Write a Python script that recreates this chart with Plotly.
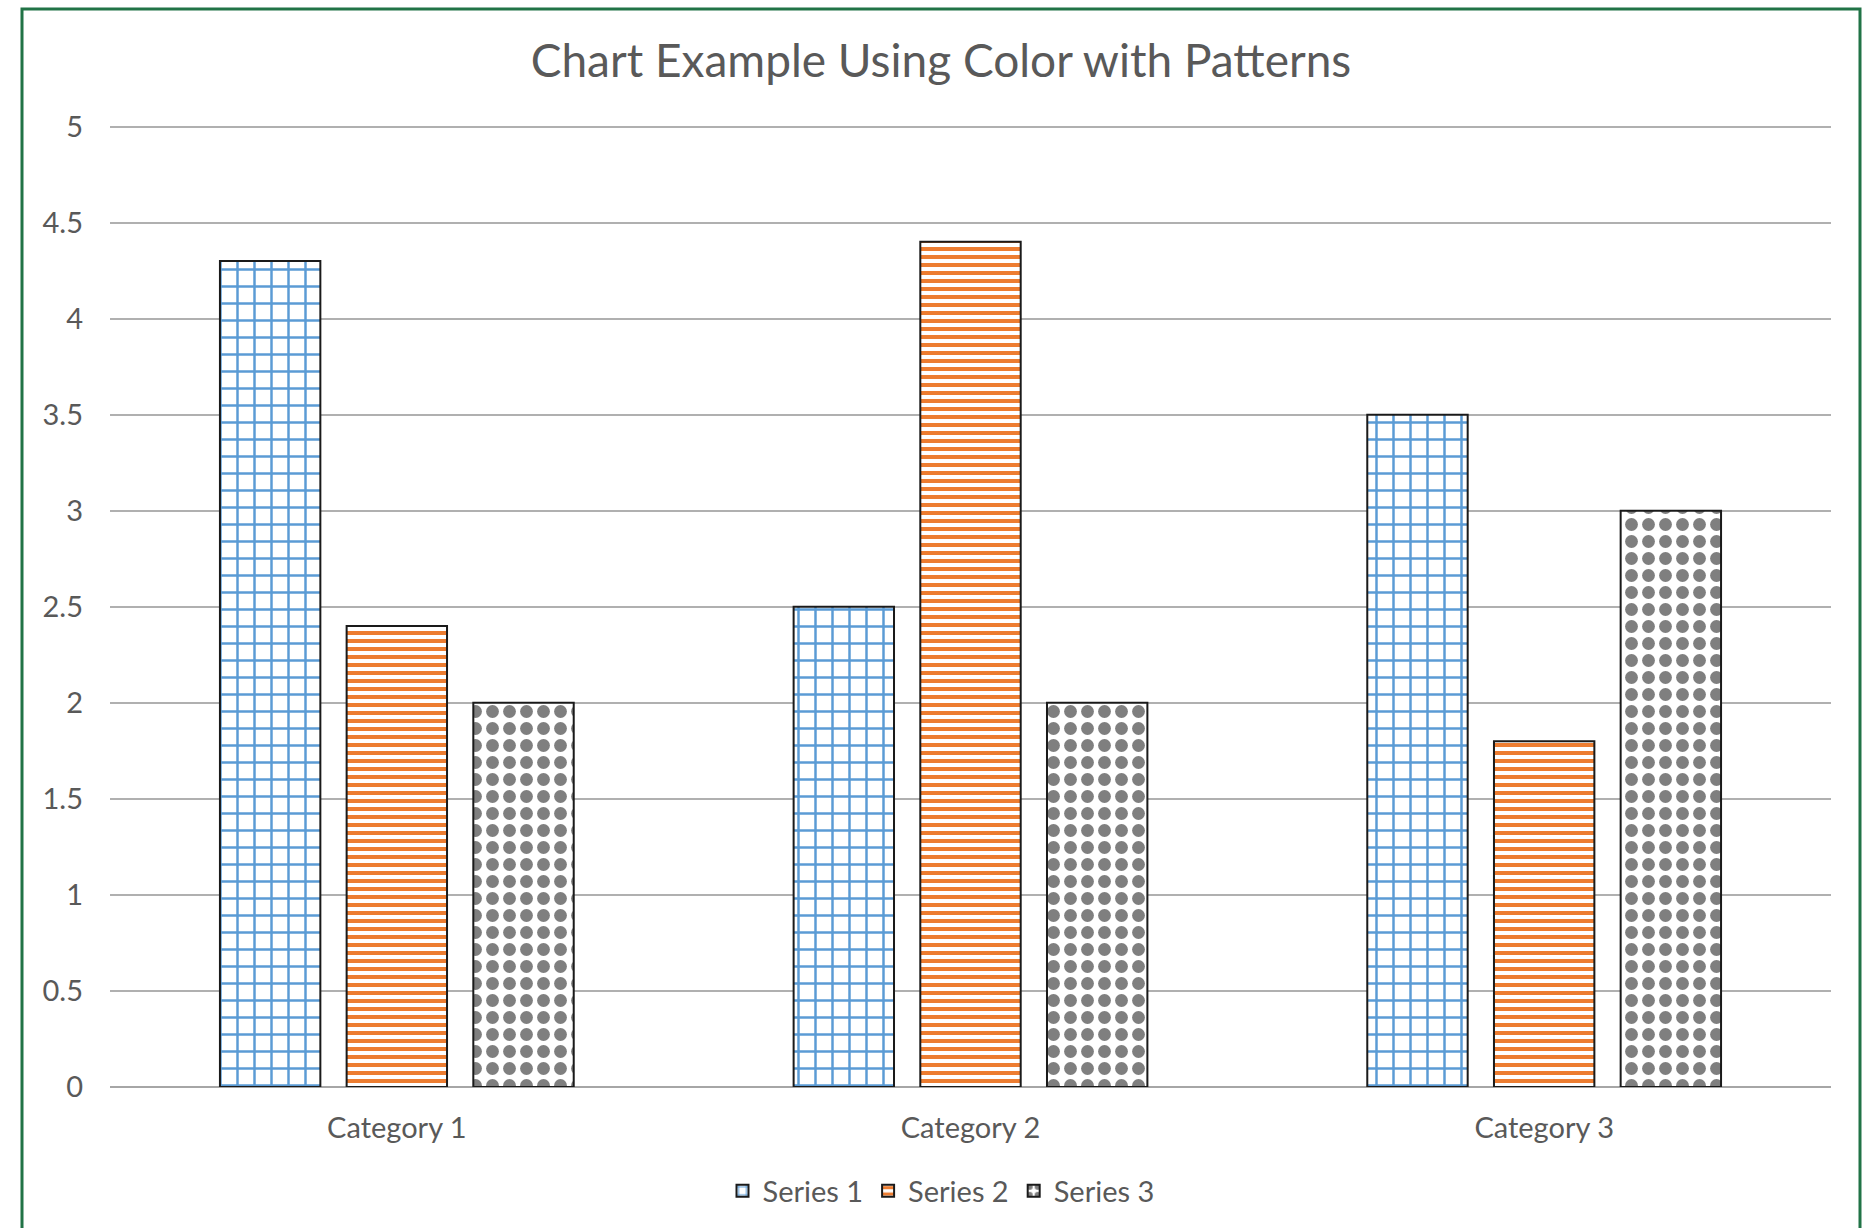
import plotly.graph_objects as go

categories = ["Category 1", "Category 2", "Category 3"]
series_names = ["Series 1", "Series 2", "Series 3"]
series1 = [4.3, 2.5, 3.5]
series2 = [2.4, 4.4, 1.8]
series3 = [2.0, 2.0, 3.0]
y_ticks = [0, 0.5, 1, 1.5, 2, 2.5, 3, 3.5, 4, 4.5, 5]
y_tick_labels = ["0", "0.5", "1", "1.5", "2", "2.5", "3", "3.5", "4", "4.5", "5"]

FONT = "Lato, Carlito, Calibri, 'Open Sans', sans-serif"
TEXT = "#595959"

styles = [
    dict(color="#5B9BD5", shape="+", size=17, solidity=0.27),
    dict(color="#ED7D31", shape="-", size=8, solidity=0.5),
    dict(color="#7F7F7F", shape=".", size=17, solidity=0.45),
]

fig = go.Figure()
for name, vals, st in zip(series_names, [series1, series2, series3], styles):
    fig.add_trace(go.Bar(
        name=name, x=categories, y=vals,
        marker=dict(
            color="white",
            line=dict(color="#1a1a1a", width=2),
            pattern=dict(shape=st["shape"], fgcolor=st["color"], bgcolor="white",
                         size=st["size"], solidity=st["solidity"], fillmode="replace"),
        ),
    ))

W, H = 1873, 1228
L, R, T, B = 110, 42, 125, 141
pw, ph = W - L - R, H - T - B

def px(x):
    return (x - L) / pw

def py(y):
    return (H - B - y) / ph

fig.update_layout(
    width=W, height=H,
    margin=dict(l=L, r=R, t=T, b=B, pad=0),
    paper_bgcolor="white", plot_bgcolor="white",
    barmode="group", bargap=0.3375, bargroupgap=0.2075,
    font=dict(family=FONT, color=TEXT, size=29),
    title=dict(text="Chart Example Using Color with Patterns",
               font=dict(family=FONT, color=TEXT, size=46),
               xref="paper", x=px(941), xanchor="center",
               yref="container", y=1 - 61 / H, yanchor="middle"),
    legend=dict(orientation="h", x=px(941), xanchor="center",
                y=py(1191), yanchor="middle", font=dict(size=29, color=TEXT),
                itemwidth=30, bgcolor="rgba(0,0,0,0)"),
    xaxis=dict(showgrid=False, showline=False, ticks="", ticklabelstandoff=21,
               tickfont=dict(size=29, color=TEXT)),
    yaxis=dict(range=[0, 5.008], tickvals=y_ticks, ticktext=y_tick_labels,
               showgrid=True, gridcolor="#B0B0B0", gridwidth=1.5,
               zeroline=True, zerolinecolor="#A6A6A6", zerolinewidth=1.5,
               showline=False, ticks="", ticklabelstandoff=26,
               tickfont=dict(size=29, color=TEXT)),
    shapes=[dict(type="rect", xref="paper", yref="paper",
                 x0=px(22), x1=px(1860), y0=py(1260), y1=py(9),
                 line=dict(color="#217346", width=3), fillcolor="rgba(0,0,0,0)",
                 layer="above")],
)

fig.write_html("out.html", config={"displayModeBar": False},
               post_script="document.body.style.margin='0';document.body.style.overflow='hidden';")
